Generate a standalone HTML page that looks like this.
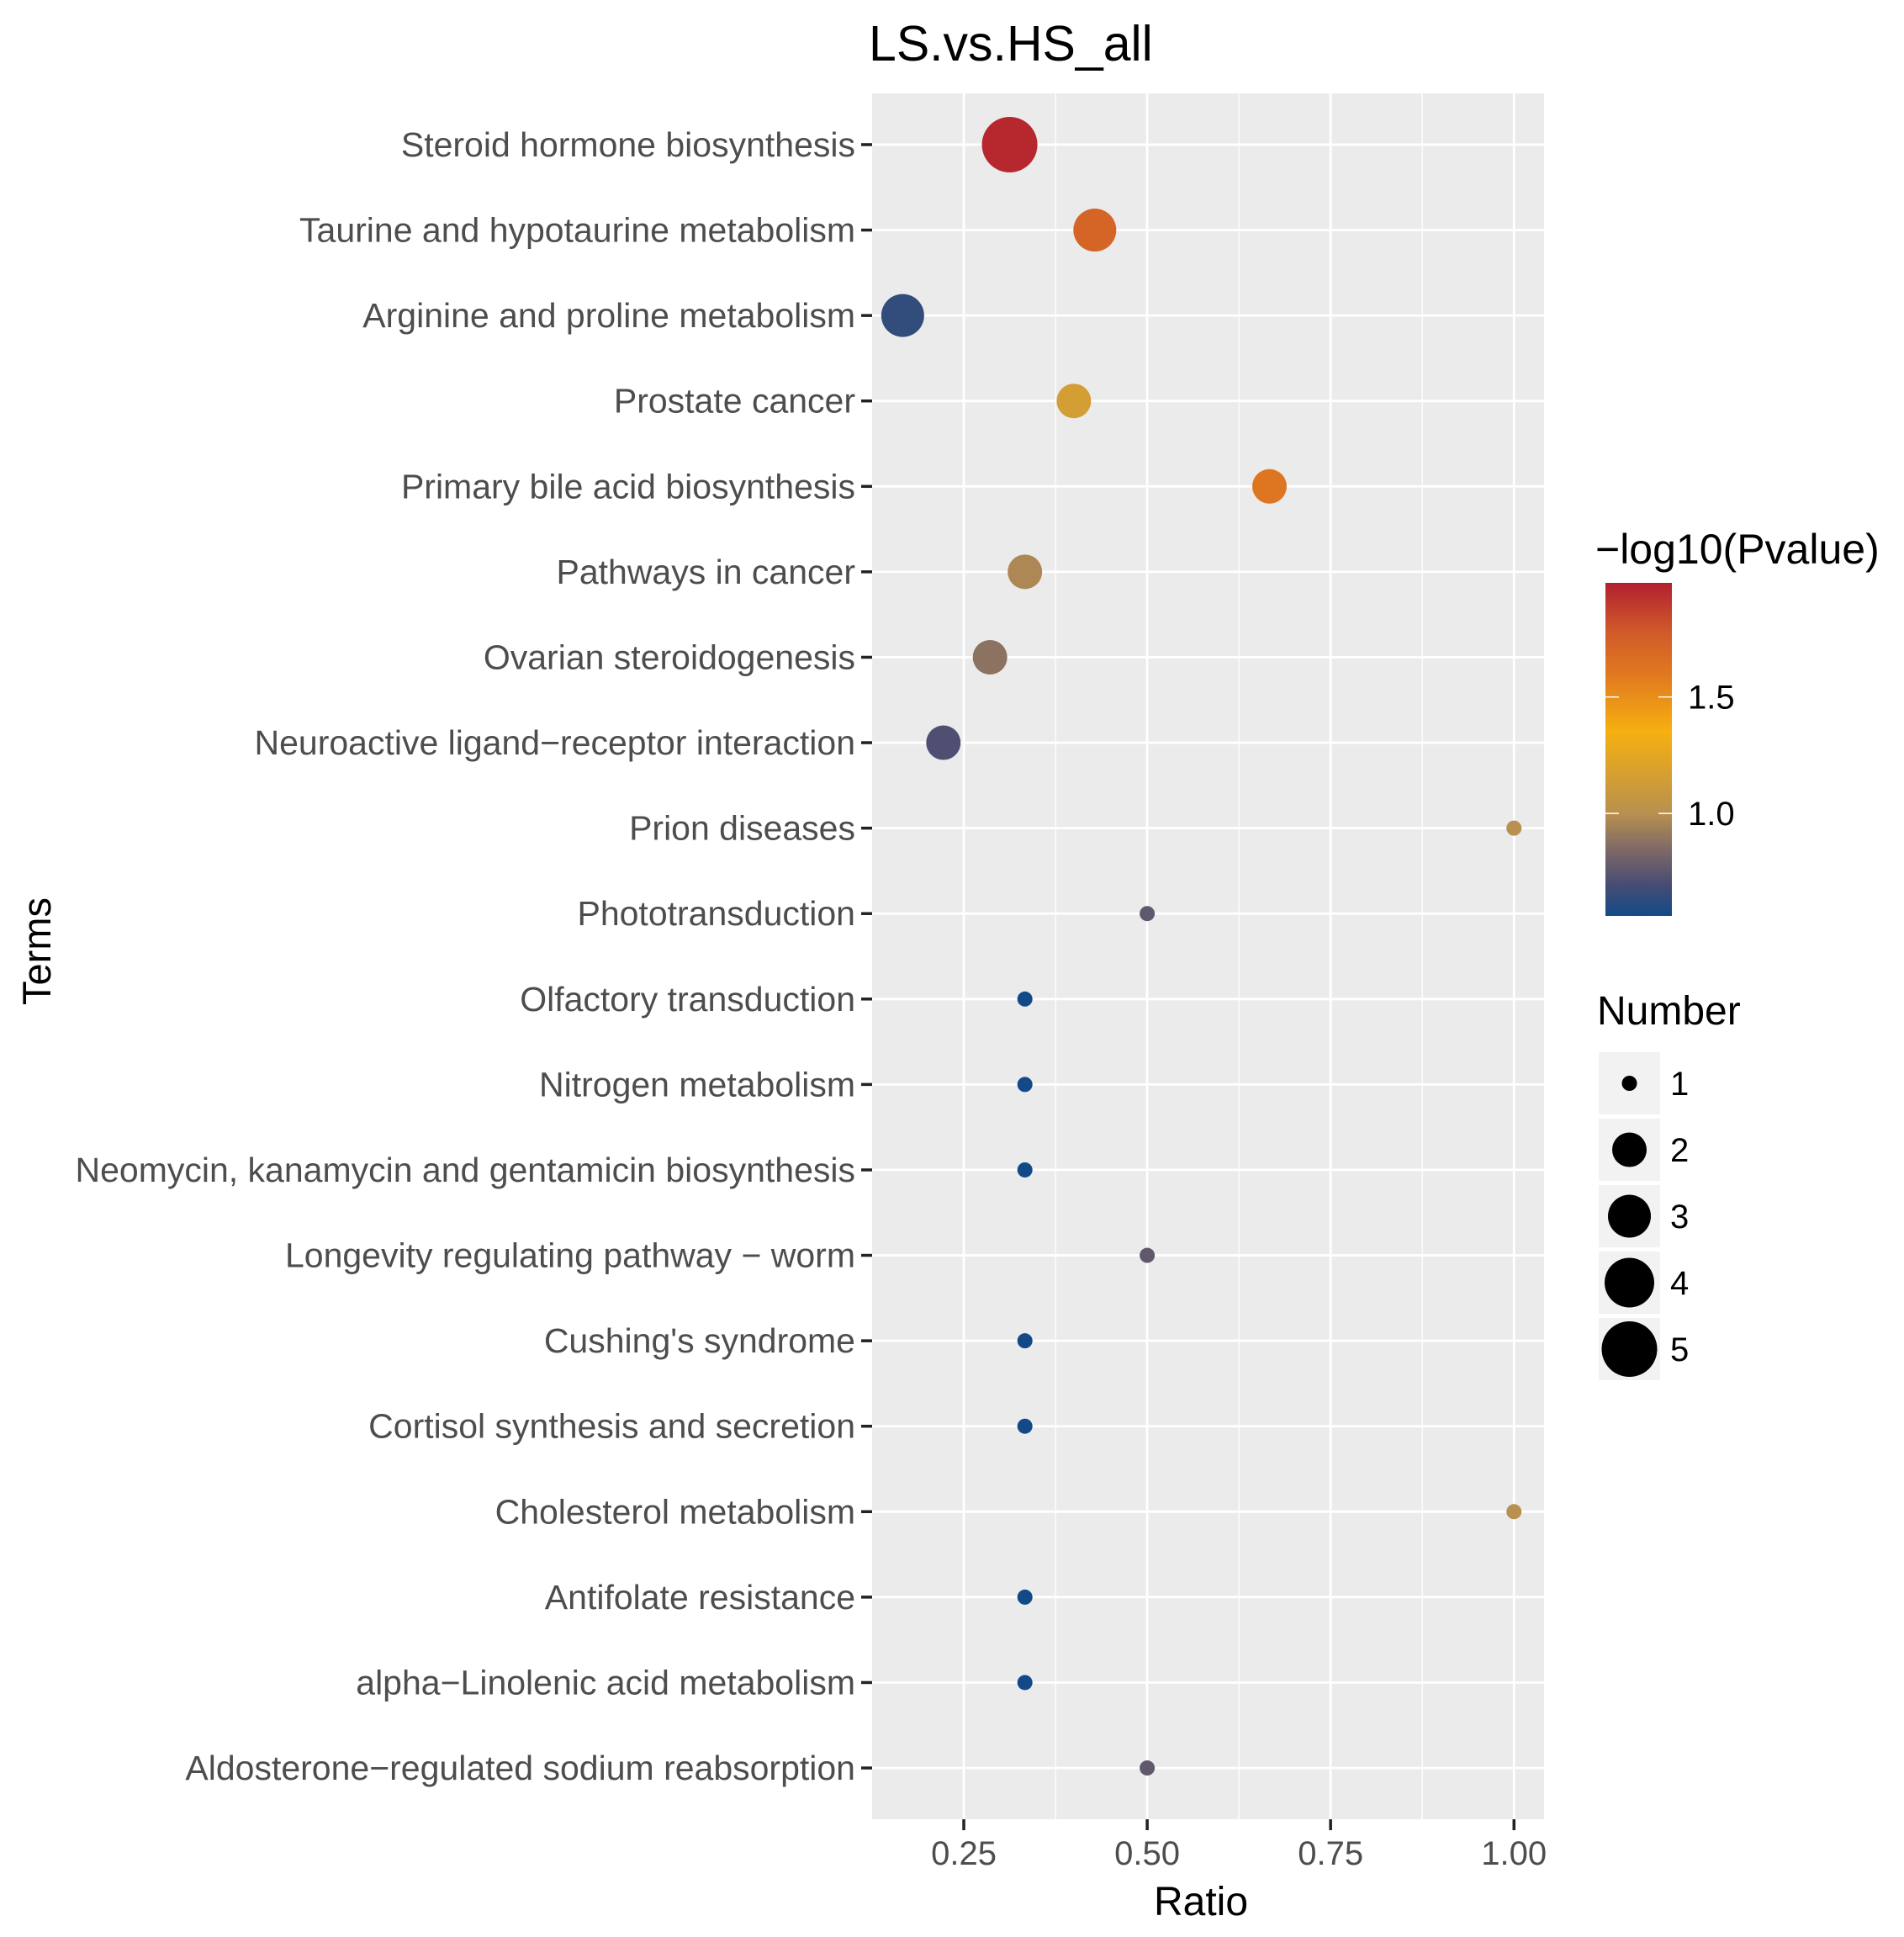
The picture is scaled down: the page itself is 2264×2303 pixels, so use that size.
<!DOCTYPE html>
<html><head><meta charset="utf-8"><style>
html,body{margin:0;padding:0;background:#fff}
svg{display:block;font-family:"Liberation Sans",Arial,sans-serif}
</style></head><body>
<svg id="chart" width="2264" height="2303" viewBox="0 0 2264 2303" xmlns="http://www.w3.org/2000/svg">
<defs>
<linearGradient id="cbar" x1="0" y1="1" x2="0" y2="0"></linearGradient>
</defs>
<text x="1033" y="72" font-size="59" fill="#000">LS.vs.HS_all</text>
<rect x="1037" y="111" width="799" height="2052" fill="#ebebeb"/>
<g id="grid"></g>
<g id="yaxis"></g>
<g id="xaxis"></g>
<g id="points"></g>
<text x="0" y="0" font-size="47" fill="#000" text-anchor="middle" transform="translate(60,1131) rotate(-90)">Terms</text>
<text x="1428" y="2277" font-size="48" fill="#000" text-anchor="middle">Ratio</text>
<g>
<text x="1897" y="670" font-size="50" fill="#000">−log10(Pvalue)</text>
<rect x="1909" y="693" width="79" height="396" fill="url(#cbar)"/>
<g id="cticks"></g>
</g>
<g>
<text x="1899" y="1218" font-size="48" fill="#000">Number</text>
<g id="skeys"></g>
</g>
</svg>
<script>
const terms = ["Steroid hormone biosynthesis","Taurine and hypotaurine metabolism","Arginine and proline metabolism","Prostate cancer","Primary bile acid biosynthesis","Pathways in cancer","Ovarian steroidogenesis","Neuroactive ligand\u2212receptor interaction","Prion diseases","Phototransduction","Olfactory transduction","Nitrogen metabolism","Neomycin, kanamycin and gentamicin biosynthesis","Longevity regulating pathway \u2212 worm","Cushing's syndrome","Cortisol synthesis and secretion","Cholesterol metabolism","Antifolate resistance","alpha\u2212Linolenic acid metabolism","Aldosterone\u2212regulated sodium reabsorption"];
const ratios = [0.3125,0.4286,0.1667,0.4,0.6667,0.3333,0.2857,0.2222,1.0,0.5,0.3333,0.3333,0.3333,0.5,0.3333,0.3333,1.0,0.3333,0.3333,0.5];
const counts = [5,3,3,2,2,2,2,2,1,1,1,1,1,1,1,1,1,1,1,1];
const pvals = [1.96,1.72,0.64,1.15,1.62,0.97,0.88,0.71,1.0,0.76,0.56,0.56,0.56,0.76,0.56,0.56,1.0,0.56,0.56,0.76];
const xTicks = [0.25,0.5,0.75,1.0];
const xTickLabels = ["0.25","0.50","0.75","1.00"];
const cTicks = [1.0,1.5];
const cTickLabels = ["1.0","1.5"];
const sizeLevels = [1,2,3,4,5];

const NS="http://www.w3.org/2000/svg";
const L=1037,R=1836,T=111,B=2163;
const xMin=0.125,xMax=1.041;
const X=v=>L+(v-xMin)/(xMax-xMin)*(R-L);
const pitch=(B-T)/(terms.length-1+1.2);
const Y=i=>T+(0.6+i)*pitch;
const diam={1:18,2:41,3:51,4:59,5:66};
const size=n=>diam[n]/2;
const cMin=0.56,cMax=1.99;
const CY=v=>1089-(v-cMin)/(cMax-cMin)*(1089-693);
const stops=[[0.56,[18,74,135]],[0.7,[74,77,114]],[0.85,[128,106,102]],[1.0,[184,144,79]],[1.35,[246,176,16]],[1.6,[224,120,32]],[1.78,[208,90,42]],[1.99,[178,31,47]]];
function col(v){
  if(v<=stops[0][0])return 'rgb('+stops[0][1]+')';
  for(let i=1;i<stops.length;i++){if(v<=stops[i][0]){const a=stops[i-1],b=stops[i],t=(v-a[0])/(b[0]-a[0]);return 'rgb('+a[1].map((c,k)=>Math.round(c+(b[1][k]-c)*t)).join(',')+')';}}
  return 'rgb('+stops[stops.length-1][1]+')';
}
function mk(tag,attrs,parent,text){const e=document.createElementNS(NS,tag);for(const k in attrs)e.setAttribute(k,attrs[k]);if(text!==undefined)e.textContent=text;parent.appendChild(e);return e;}
const grad=document.getElementById('cbar');
stops.forEach(s=>{mk('stop',{offset:(s[0]-cMin)/(cMax-cMin),'stop-color':'rgb('+s[1]+')'},grad);});

const grid=document.getElementById('grid');
for(let i=0;i<xTicks.length-1;i++){
  const m=(xTicks[i]+xTicks[i+1])/2;
  const g=mk('line',{x1:X(m),x2:X(m),y1:T,y2:B,stroke:'#fff','stroke-width':1.3},grid);
  
  
}
xTicks.forEach(v=>{
  const g=mk('line',{x1:X(v),x2:X(v),y1:T,y2:B,stroke:'#fff','stroke-width':2.8},grid);
  
  
});
terms.forEach((t,i)=>{
  const g=mk('line',{x1:L,x2:R,y1:Y(i),y2:Y(i),stroke:'#fff','stroke-width':2.8},grid);
  
  
});
const ya=document.getElementById('yaxis');
terms.forEach((t,i)=>{
  const tk=mk('line',{x1:L-13,x2:L,y1:Y(i),y2:Y(i),stroke:'#222','stroke-width':3.5},ya);
  
  
  const tx=mk('text',{x:L-20,y:Y(i)+14,'font-size':41,fill:'#4d4d4d','text-anchor':'end'},ya,t);
  
  
});
const xa=document.getElementById('xaxis');
xTicks.forEach((v,i)=>{
  const tk=mk('line',{x1:X(v),x2:X(v),y1:B,y2:B+13,stroke:'#222','stroke-width':3.5},xa);
  
  
  const tx=mk('text',{x:X(v),y:2217,'font-size':40,fill:'#4d4d4d','text-anchor':'middle'},xa,xTickLabels[i]);
  
  
});
const pts=document.getElementById('points');
terms.forEach((t,i)=>{
  const c=mk('circle',{cx:X(ratios[i]),cy:Y(i),r:size(counts[i]),fill:col(pvals[i])},pts);
  
  
});
const ct=document.getElementById('cticks');
cTicks.forEach((v,i)=>{
  const a=mk('line',{x1:1909,x2:1925,y1:CY(v),y2:CY(v),stroke:'#fff','stroke-width':1.5},ct);
  
  
  const b=mk('line',{x1:1972,x2:1988,y1:CY(v),y2:CY(v),stroke:'#fff','stroke-width':1.5},ct);
  
  
  const tx=mk('text',{x:2007,y:CY(v)+14,'font-size':40,fill:'#000'},ct,cTickLabels[i]);
  
  
});
const sk=document.getElementById('skeys');
sizeLevels.forEach((n,i)=>{
  const cy=1288+i*79;
  const r=mk('rect',{x:1901,y:cy-37,width:73,height:74,fill:'#f2f2f2'},sk);
  
  
  const c=mk('circle',{cx:1937.5,cy:cy,r:size(n),fill:'#000'},sk);
  
  
  const tx=mk('text',{x:1986,y:cy+14,'font-size':40,fill:'#000'},sk,String(n));
  
  
});
</script>
</body></html>
